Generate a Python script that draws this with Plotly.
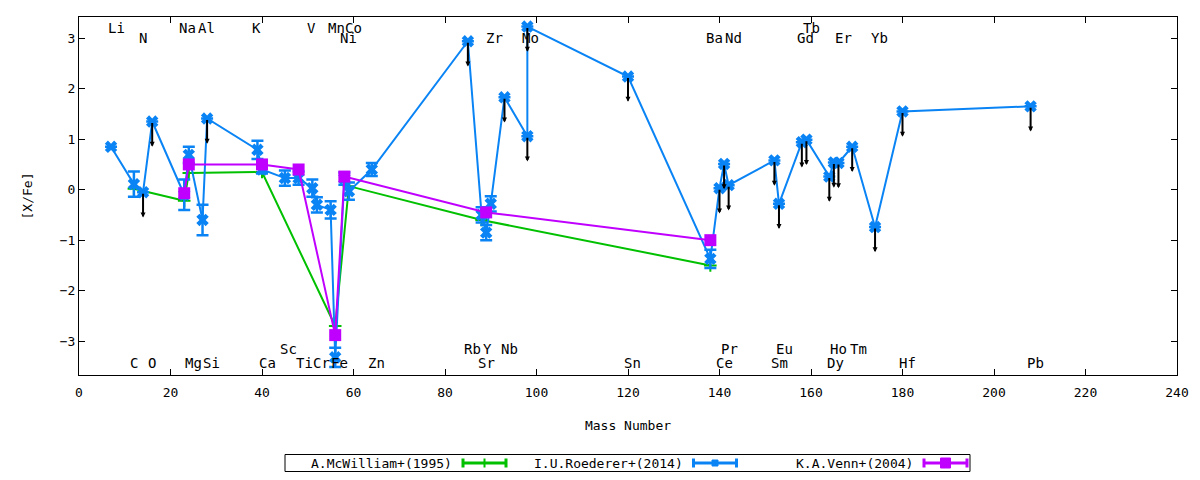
"""Abundance pattern [X/Fe] vs mass number for three literature sources."""

import plotly.graph_objects as go

# I.U.Roederer+(2014)
roederer_elem = ["Li", "C", "N", "O", "Na", "Mg", "Al", "Si", "K", "Ca", "Sc", "Ti", "V", "Cr",
                 "Mn", "Fe", "Ni", "Co", "Zn", "Rb", "Sr", "Y", "Zr", "Nb", "Mo", "Mo", "Sn",
                 "Ba", "Ce", "Pr", "Nd", "Sm", "Eu", "Gd", "Tb", "Dy", "Ho", "Er", "Tm", "Yb",
                 "Hf", "Pb"]
roederer_mass = [7, 12, 14, 16, 23, 24, 27, 28, 39, 40, 45, 48, 51, 52, 55, 56, 58, 59, 64, 85,
                 88, 89, 90, 93, 98, 98, 120, 138, 140, 141, 142, 152, 153, 158, 159, 164, 165,
                 166, 169, 174, 180, 208]
roederer_val = [0.85, 0.11, -0.05, 1.35, -0.10, 0.69, -0.60, 1.41, 0.79, 0.40, 0.23, 0.23, 0.03,
                -0.30, -0.40, -3.32, 0.22, -0.03, 0.40, 2.94, -0.50, -0.85, -0.28, 1.83, 1.06,
                3.23, 2.24, -1.37, 0.03, 0.51, 0.09, 0.58, -0.28, 0.94, 0.99, 0.26, 0.54, 0.53,
                0.85, -0.74, 1.55, 1.65]
roederer_err = [None, 0.25, None, None, 0.30, 0.16, 0.30, None, 0.18, 0.08, 0.15, 0.13, 0.17,
                0.15, 0.17, 0.19, 0.12, 0.17, 0.13, None, 0.15, 0.15, 0.15, None, None, None,
                None, 0.18, None, None, None, None, None, None, None, None, None, None, None,
                None, None, None]
# upper limits (drawn as downward arrows)
roederer_limit = [False, False, True, True, False, False, False, True, False, False, False,
                  False, False, False, False, False, False, False, False, True, False, False,
                  False, True, True, True, True, False, True, True, True, True, True, True, True,
                  True, True, True, True, True, True, True]

# A.McWilliam+(1995)
mcwilliam_mass = [12, 23, 24, 40, 56, 59, 88, 138]
mcwilliam_val = [0.02, -0.22, 0.33, 0.35, -2.70, 0.07, -0.60, -1.50]

# K.A.Venn+(2004)
venn_mass = [23, 24, 40, 48, 56, 58, 89, 138]
venn_val = [-0.07, 0.50, 0.50, 0.40, -2.88, 0.26, -0.45, -1.00]

# element labels along the top and bottom of the frame
label_text = ["Li", "Na", "Al", "K", "V", "Mn", "Co", "Tb",
              "N", "Ni", "Zr", "Mo", "Ba", "Nd", "Gd", "Er", "Yb",
              "Sc", "Rb", "Y", "Nb", "Pr", "Eu", "Ho", "Tm",
              "C", "O", "Mg", "Si", "Ca", "Ti", "Cr", "Fe", "Zn", "Sr", "Sn", "Ce", "Sm",
              "Dy", "Hf", "Pb"]
label_mass = [8.1, 23.8, 27.8, 38.9, 50.9, 56.2, 59.9, 160.2,
              14.0, 58.8, 90.9, 98.6, 139.0, 143.0, 158.9, 167.0, 175.0,
              45.9, 86.1, 89.2, 94.0, 142.1, 154.1, 166.1, 170.3,
              12.0, 16.0, 25.1, 28.9, 41.1, 49.2, 53.1, 57.0, 65.1, 89.0, 120.9, 141.2, 153.2,
              165.3, 181.2, 209.0]
label_row = [0] * 8 + [1] * 9 + [2] * 8 + [3] * 16
row_y = [3.21, 3.01, -3.15, -3.43]

series_names = ["A.McWilliam+(1995)", "I.U.Roederer+(2014)", "K.A.Venn+(2004)"]

LIMIT_LEN = 0.5
FONT = "DejaVu Sans Mono"
FS = 13
GREEN = "#00c000"
BLUE = "#0a84f5"
PURPLE = "#c000ff"
colors = [GREEN, BLUE, PURPLE]

# plot-area geometry in screen pixels (page body adds an 8px margin)
PLOT_L, PLOT_W, PLOT_T, PLOT_H = 79, 1098, 17, 358


def px_x(p):
    return (p - PLOT_L) / PLOT_W


def px_y(p):
    return (PLOT_T + PLOT_H - p) / PLOT_H


fig = go.Figure()

fig.add_trace(go.Scatter(
    x=mcwilliam_mass, y=mcwilliam_val, mode="lines+markers",
    name=series_names[0],
    line=dict(color=GREEN, width=2),
    marker=dict(symbol="cross-thin", size=9, line=dict(color=GREEN, width=2)),
))

fig.add_trace(go.Scatter(
    x=roederer_mass, y=roederer_val, mode="lines+markers",
    name=series_names[1], text=roederer_elem,
    line=dict(color=BLUE, width=2),
    marker=dict(symbol="x", size=11, color=BLUE),
    error_y=dict(type="data", array=roederer_err, visible=True,
                 color=BLUE, thickness=2.5, width=6),
))

fig.add_trace(go.Scatter(
    x=venn_mass, y=venn_val, mode="lines+markers",
    name=series_names[2],
    line=dict(color=PURPLE, width=2),
    marker=dict(symbol="square", size=12, color=PURPLE),
))

# upper-limit arrows
for m, v, lim in zip(roederer_mass, roederer_val, roederer_limit):
    if not lim:
        continue
    fig.add_annotation(
        x=m, y=v - LIMIT_LEN, ax=m, ay=v, xref="x", yref="y", axref="x", ayref="y",
        text="", showarrow=True, arrowhead=2, arrowsize=0.5, arrowwidth=2,
        arrowcolor="black",
    )

for name, m, r in zip(label_text, label_mass, label_row):
    fig.add_annotation(
        x=m, y=row_y[r], text=name, showarrow=False,
        xanchor="center", yanchor="middle",
        font=dict(family=FONT, size=FS + 1, color="black"),
    )

# gnuplot-style key: boxed, text first then a line sample with error-bar caps
KEY_MID = 463
key_y = px_y(KEY_MID)
fig.add_shape(type="rect", xref="paper", yref="paper",
              x0=px_x(285), x1=px_x(970), y0=px_y(471.5), y1=px_y(454.5),
              line=dict(color="black", width=1), fillcolor="white")
for i, (name, col) in enumerate(zip(series_names, colors)):
    s0 = 463 + i * 230.5
    s1 = s0 + 43
    mid = (s0 + s1) / 2
    fig.add_annotation(x=px_x(s0 - 9), y=key_y, xref="paper", yref="paper",
                       text=name, showarrow=False, xanchor="right", yanchor="middle",
                       font=dict(family=FONT, size=FS, color="black"))
    fig.add_shape(type="line", xref="paper", yref="paper",
                  x0=px_x(s0), x1=px_x(s1), y0=key_y, y1=key_y,
                  line=dict(color=col, width=3))
    for c in (s0, s1):
        fig.add_shape(type="line", xref="paper", yref="paper",
                      x0=px_x(c), x1=px_x(c), y0=px_y(KEY_MID + 4.5), y1=px_y(KEY_MID - 4.5),
                      line=dict(color=col, width=3))
    if i == 0:
        fig.add_shape(type="line", xref="paper", yref="paper",
                      x0=px_x(mid), x1=px_x(mid), y0=px_y(KEY_MID + 4.5),
                      y1=px_y(KEY_MID - 4.5), line=dict(color=col, width=2))
    else:
        half = 3 if i == 1 else 5
        fig.add_shape(type="rect", xref="paper", yref="paper",
                      x0=px_x(mid - half), x1=px_x(mid + half),
                      y0=px_y(KEY_MID + half), y1=px_y(KEY_MID - half),
                      line=dict(color=col, width=1), fillcolor=col)

axis_style = dict(
    showgrid=False, zeroline=False, showline=True, linecolor="black", linewidth=1,
    mirror="ticks", ticks="inside", ticklen=6, tickcolor="black", automargin=False,
    tickfont=dict(family=FONT, size=FS, color="black"),
)

fig.update_xaxes(range=[0, 240], dtick=20, tick0=0, ticklabelstandoff=5,
                 title=dict(text="Mass Number", standoff=22,
                            font=dict(family=FONT, size=FS, color="black")),
                 **axis_style)
fig.update_yaxes(range=[-3.67, 3.42], dtick=1, tick0=0,
                 title=dict(text="[X/Fe]", standoff=24,
                            font=dict(family=FONT, size=FS, color="black")),
                 **axis_style)

# the page body adds an 8px margin, so the figure is sized to fit inside it
fig.update_layout(
    width=1184, height=464,
    margin=dict(l=PLOT_L - 8, r=1184 + 8 - PLOT_L - PLOT_W, t=PLOT_T - 8,
                b=464 + 8 - PLOT_T - PLOT_H),
    paper_bgcolor="white", plot_bgcolor="white",
    font=dict(family=FONT, size=FS, color="black"),
    showlegend=False,
)

fig.write_html("out.html")
